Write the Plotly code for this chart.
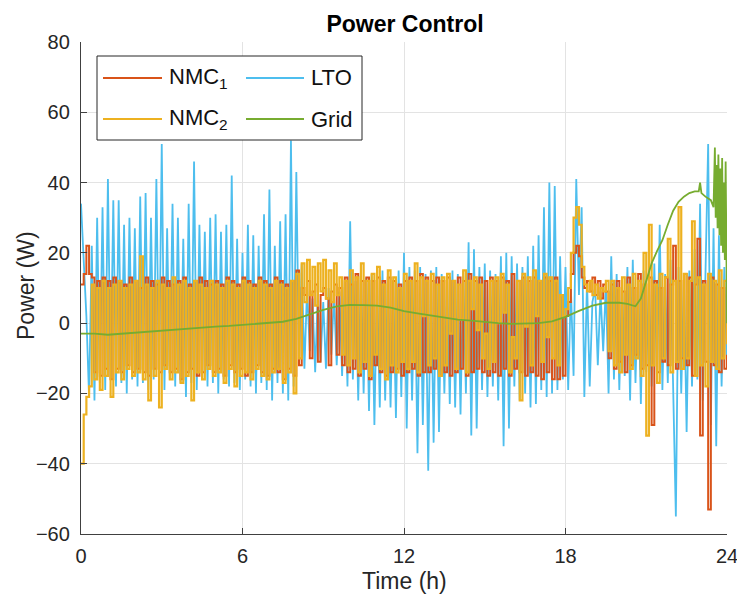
import plotly.graph_objects as go

# ---------------- data ----------------
# sample times, 0.1 h step
time_h = [round(i * 0.1, 1) for i in range(241)]

nmc1 = [
    11, 14, 22, 14, 13, -14, 12, -15, 13, -13,
    12, -16, 13, -13, 12, -14, 11, -12, 13, -14,
    12, -13, 10, -14, 13, -15, 12, -13, 11, -14,
    13, -12, 12, -14, 11, -13, 12, -16, 13, -14,
    11, -13, 12, -15, 13, -14, 12, -12, 11, -14,
    12, -13, 11, -15, 13, -12, 12, -14, 11, -13,
    13, -15, 12, -14, 11, -12, 13, -14, 12, -15,
    11, -13, 13, -14, 12, -16, 11, -13, 12, -15,
    15, -12, 10, 8, 12, -10, 9, 11, -11, 8,
    10, 7, -12, 9, 11, -9, 10, -12, 13, -14,
    11, -13, 14, -15, 12, -13, 13, -16, 12, -12,
    13, -14, 12, -15, 13, -14, 12, -13, 11, -15,
    12, -14, 13, -13, 12, -15, 14, -14, 13, -14,
    12, -13, 13, -15, 12, -14, 13, -15, 12, -14,
    13, -13, 12, -15, 14, -14, 12, -13, 13, -14,
    12, -15, 13, -14, 12, -15, 13, -13, 12, -15,
    14, -13, 12, -14, 13, -15, 12, -14, 13, -15,
    12, -16, 13, -14, 12, -16, 13, -16, 8, -15,
    2, 6, 14, 20, 22, 19, 13, 10, 12, 9,
    13, 8, 12, 7, 11, 9, -10, 11, -13, 12,
    -11, 9, -14, 13, -12, 10, -9, 14, -13, 11,
    -12, 13, -29, 12, -14, 10, -11, 13, -12, 11,
    22, -13, 12, -10, 14, -12, 13, -15, 11, 24,
    -32, 12, -11, -53, 13, -12, 11, -14, 10, -13,
    -9,
]

nmc2 = [
    -40, -26, -21, -18, 11, -16, 10, -19, 12, -15,
    10, -21, 11, -14, 12, -16, 10, -13, 11, -15,
    12, -14, 19, -16, 11, -22, 10, -15, 12, -24,
    11, -13, 10, -16, 13, -14, 11, -17, 12, -15,
    10, -22, 12, -14, 11, -16, 10, -13, 12, -15,
    11, -14, 10, -17, 12, -13, 11, -18, 10, -15,
    12, -14, 11, -16, 10, -13, 12, -15, 11, -16,
    10, -14, 12, -13, 11, -17, 10, -14, 12, -20,
    14, -10, 17, 6, 18, 8, 16, 5, 17, 9,
    18, 7, 15, 6, 17, 8, 13, -9, 12, -12,
    15, -10, 13, -14, 17, -11, 12, -15, 14, -9,
    16, -13, 11, -16, 15, -12, 13, -14, 10, -11,
    14, -13, 12, -11, 17, -14, 13, 2, 12, -12,
    14, -10, 11, -15, 13, -12, 14, -3, 12, -13,
    11, 1, 15, -14, 12, 4, 13, -2, 11, -10,
    -3, -13, 12, -11, 13, 0, 14, 3, 11, -14,
    -4, -10, 12, -22, 14, -1, 13, -12, 15, 2,
    12, -11, 14, -4, 13, -10, 12, -12, 8, 2,
    4, 10, 20, 30, 33, 28, 16, 11, 9, 12,
    8, 11, 7, 10, 9, 12, -8, 12, -12, 10,
    -14, 13, -9, 11, -13, 14, -10, 12, -15, 20,
    -32, 28, -12, 11, -17, 14, -10, 13, 24, -14,
    12, -11, 33, -13, 14, -10, 12, 29, -15, 13,
    -12, 11, -18, 14, -11, 12, -13, 15, -10, 12,
    -6,
]

lto = [
    34, 18, 2, -21, 22, -22, 30, -17, 33, -19,
    41, -16, 35, -18, 35, -17, 28, -20, 30, -16,
    27, -18, 36, -17, 37, -19, 30, -16, 41, -17,
    51, -19, 27, -16, 34, -18, 30, -17, 24, -21,
    34, -17, 46, -19, 28, -16, 26, -18, 30, -17,
    31, -20, 26, -16, 28, -18, 42, -17, 24, -19,
    20, -16, 28, -18, 25, -20, 22, -17, 31, -19,
    38, -22, 22, -17, 29, -20, 31, -22, 52, -18,
    43, -12, 17, -13, 10, -8, 7, -14, 9, -11,
    6, -13, 10, -9, 8, -12, 9, -15, 12, -18,
    29, -16, 12, -22, 15, -20, 13, -25, 14, -29,
    12, -24, 15, -22, 13, -24, 12, -27, 15, -21,
    20, -30, 16, -22, 15, -37, 16, -29, 14, -42,
    15, -34, 16, -31, 14, -20, 13, -23, 15, -24,
    14, -26, 15, -20, 23, -32, 21, -30, 16, -19,
    17, -21, 15, -18, 14, -22, 19, -35, 20, -30,
    19, -18, 17, -22, 16, -20, 19, -24, 22, -23,
    25, -19, 33, -21, 40, -20, 39, -19, 19, -16,
    16, -19, 10, -15, 41, 8, 33, -21, 12, -18,
    6, 10, -12, 9, -8, 11, -20, 19, -16, 14,
    -19, 12, -15, 16, -22, 18, -17, 13, -23, 15,
    -14, 12, -18, 17, -16, 28, -19, 14, -17, 18,
    -15, -55, 16, -20, 13, -31, 15, -18, 21, -16,
    34, -22, 14, 51, -29, 27, -35, 25, -18, 16,
    -12,
]

grid_t = [0, 0.5, 1, 1.5, 2, 2.5, 3, 3.5, 4, 4.5, 5, 5.5, 6, 6.5, 7, 7.5, 8, 8.5,
          9, 9.5, 10, 10.5, 11, 11.5, 12, 12.5, 13, 13.5, 14, 14.5, 15, 15.5, 16,
          16.5, 17, 17.5, 18, 18.5, 19, 19.5, 20, 20.3, 20.6, 20.8, 21, 21.2, 21.4,
          21.6, 21.8, 22, 22.2, 22.4, 22.6, 22.8, 22.95, 23.0, 23.05, 23.2, 23.4,
          23.5, 23.55, 23.58, 23.62, 23.65, 23.68, 23.72, 23.75, 23.78, 23.82,
          23.85, 23.88, 23.92, 23.95, 23.98, 24.0]
grid_p = [-3, -3, -3.3, -3, -2.6, -2.3, -2, -1.8, -1.5, -1.3, -1, -0.8, -0.5, -0.3,
          0, 0.4, 1.2, 2.6, 3.8, 4.8, 5.2, 5.1, 5, 4.4, 3.4, 2.8, 2.2, 1.6, 1, 0.7,
          0.3, 0, -0.2, -0.2, 0, 0.5, 1.8, 3.5, 5, 5.8, 5.8, 5.5, 4.8, 7, 12, 17,
          20.5, 23.6, 28, 32, 34.5, 36, 37, 37.5, 37.5, 40, 37, 36, 35, 33, 50, 30,
          45, 27, 48, 25, 44, 22, 47, 20, 40, 18, 46, 10, 0]

assert len(nmc1) == len(time_h) and len(nmc2) == len(time_h) and len(lto) == len(time_h)
assert len(grid_t) == len(grid_p)

x_ticks = [0, 6, 12, 18, 24]
y_ticks = [-60, -40, -20, 0, 20, 40, 60, 80]

C_NMC1 = "#D95319"
C_NMC2 = "#EDB120"
C_LTO = "#4DBEEE"
C_GRID = "#77AC30"

FONT = "Liberation Sans, Arial, Helvetica, sans-serif"
W, H = 737, 597
L, R, T, B = 81, 727, 42, 534

fig = go.Figure()
fig.add_trace(go.Scatter(x=time_h, y=lto, mode="lines", line=dict(color=C_LTO, width=1.8),
                         name="LTO", showlegend=False))
fig.add_trace(go.Scatter(x=time_h, y=nmc1, mode="lines", line=dict(color=C_NMC1, width=2.0, shape="hv"),
                         name="NMC1", showlegend=False))
fig.add_trace(go.Scatter(x=time_h, y=nmc2, mode="lines", line=dict(color=C_NMC2, width=2.2, shape="hv"),
                         name="NMC2", showlegend=False))
fig.add_trace(go.Scatter(x=grid_t, y=grid_p, mode="lines", line=dict(color=C_GRID, width=1.8), name="Grid", showlegend=False))

def px(xp):
    return (xp - L) / (R - L)

def py(yp):
    return (B - yp) / (B - T)

# manual two-column legend
shapes = [dict(type="rect", xref="paper", yref="paper", x0=px(97), x1=px(362), y0=py(140), y1=py(56),
               line=dict(color="#262626", width=1), fillcolor="white", layer="above")]
legend_items = [
    (C_NMC1, "NMC<sub>1</sub>", 103, 162, 78),
    (C_LTO, "LTO", 246, 304, 78),
    (C_NMC2, "NMC<sub>2</sub>", 103, 162, 119),
    (C_GRID, "Grid", 246, 304, 119),
]
annotations = []
for col, label, x0, x1, yy in legend_items:
    shapes.append(dict(type="line", xref="paper", yref="paper", x0=px(x0), x1=px(x1), y0=py(yy), y1=py(yy),
                       line=dict(color=col, width=2), layer="above"))
    annotations.append(dict(text=label, xref="paper", yref="paper", x=px(x1 + 5), y=py(yy),
                            xanchor="left", yanchor="middle", showarrow=False,
                            font=dict(family=FONT, size=22, color="#111111")))

# axis titles
annotations.append(dict(text="Time (h)", xref="paper", yref="paper", x=0.5, y=py(581), xanchor="center",
                        yanchor="middle", showarrow=False, font=dict(family=FONT, size=23, color="#262626")))
annotations.append(dict(text="Power (W)", xref="paper", yref="paper", x=px(26), y=py(286), xanchor="center",
                        yanchor="middle", showarrow=False, textangle=-90,
                        font=dict(family=FONT, size=23, color="#262626")))

fig.update_layout(
    width=W, height=H,
    margin=dict(l=L, r=W - R, t=T, b=H - B, autoexpand=False),
    paper_bgcolor="white", plot_bgcolor="white",
    title=dict(text="<b>Power Control</b>", x=(405 / W), xanchor="center",
               y=1 - 24 / H, yanchor="middle", yref="container",
               font=dict(family=FONT, size=23, color="#000000")),
    xaxis=dict(range=[0, 24.0001], tickvals=x_ticks, ticktext=[str(v) for v in x_ticks],
               showgrid=True, gridcolor="#e3e3e3", gridwidth=1, zeroline=False, automargin=False,
               showline=True, linecolor="#404040", linewidth=1.3, mirror=False,
               ticks="inside", ticklen=6, tickcolor="#404040", ticklabeloverflow="allow",
               tickfont=dict(family=FONT, size=20, color="#262626"), ticklabelstandoff=4),
    yaxis=dict(range=[-60, 80], tickvals=y_ticks, automargin=False,
               ticktext=[("\u2212" + str(-v)) if v < 0 else str(v) for v in y_ticks],
               showgrid=True, gridcolor="#e3e3e3", gridwidth=1, zeroline=False,
               showline=True, linecolor="#404040", linewidth=1.3, mirror=False,
               ticks="inside", ticklen=6, tickcolor="#404040",
               tickfont=dict(family=FONT, size=20, color="#262626"), ticklabelstandoff=6),
    shapes=shapes,
    annotations=annotations,
    showlegend=False,
)

fig.write_html("out.html")
